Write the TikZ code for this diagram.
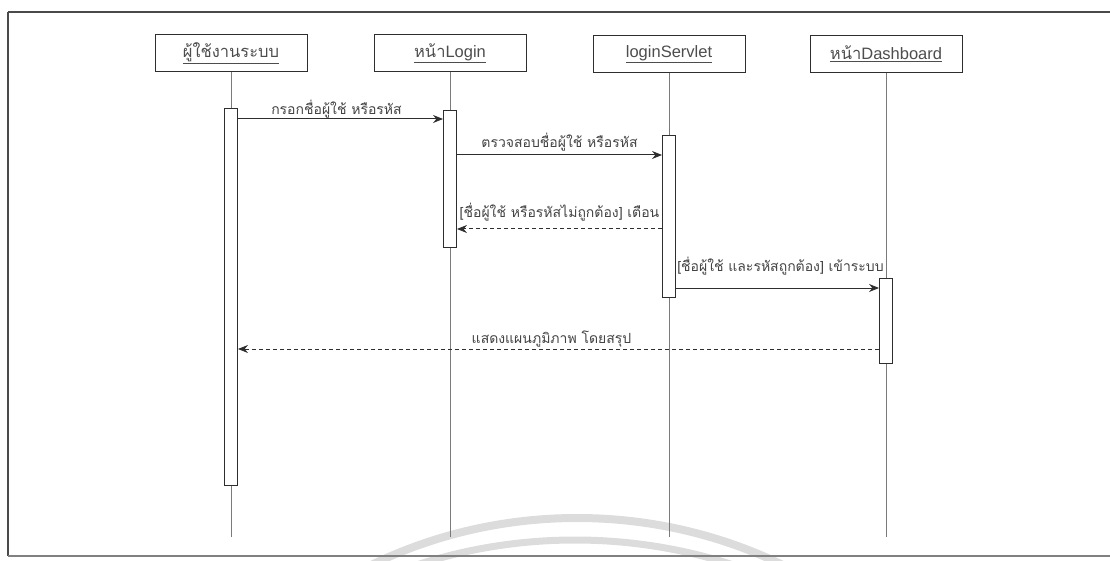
\documentclass[tikz,border=0pt]{standalone}
\usepackage{fontspec}
\setmainfont{Liberation Sans}
\newfontfamily\thai[Script=Thai]{Loma}
\usetikzlibrary{arrows.meta}
\definecolor{ink}{HTML}{2E2E2E}
\definecolor{life}{HTML}{7A7A7A}
\definecolor{stamp}{HTML}{DCDCDC}
\definecolor{frame}{HTML}{4A4A4A}
\begin{document}
\begin{tikzpicture}[x=1pt,y=-1pt,
  head/.style={draw=ink, line width=1pt, minimum width=152pt, minimum height=37pt,
    inner sep=0pt, font=\fontsize{16.5}{19}\selectfont, text=ink!85},
  lifeline/.style={draw=life, line width=1pt},
  act/.style={draw=ink, fill=white, line width=0.9pt, minimum width=13pt,
    inner sep=0pt, anchor=north},
  call/.style={draw=ink, line width=1pt, -{Stealth[length=10pt,width=8pt]}},
  reply/.style={call, dash pattern=on 4pt off 3pt},
  lbl/.style={font=\thai\fontsize{14}{16}\selectfont, text=ink!90, inner sep=0pt, anchor=base}
]
\useasboundingbox (0,0) rectangle (1110,561);

% faint rings of the stamp near the lower edge
\begin{scope}
  \clip (8,12) rectangle (1110,561);
  \draw[stamp, line width=8pt] (577,991) circle[radius=473pt];
  \draw[stamp, line width=7pt] (575,1051) circle[radius=511pt];
\end{scope}

% page frame
\draw[frame, line width=1.4pt] (8,12) -- (1110,12);
\draw[frame, line width=1.2pt] (8,12) -- (8,556);
\draw[frame!70, line width=1.2pt] (8,556) -- (1110,556);

% participants
\node[head] (user) at (231,53) {\underline{\thai ผู้ใช้งานระบบ}};
\node[head] (login) at (450,53) {\underline{{\thai หน้า}Login}};
\node[head] (servlet) at (669,54) {\underline{loginServlet}};
\node[head] (dash) at (886,54) {\underline{{\thai หน้า}Dashboard}};

% lifelines
\coordinate (userEnd) at (231,537);
\coordinate (loginEnd) at (450,537);
\coordinate (servletEnd) at (669,537);
\coordinate (dashEnd) at (886,537);
\draw[lifeline] (user.south) -- (userEnd);
\draw[lifeline] (login.south) -- (loginEnd);
\draw[lifeline] (servlet.south) -- (servletEnd);
\draw[lifeline] (dash.south) -- (dashEnd);

% activation bars
\node[act, minimum height=377pt] (a1) at (231,108) {};
\node[act, minimum height=137pt] (a2) at (450,110) {};
\node[act, minimum height=162pt] (a3) at (669,135) {};
\node[act, minimum height=85pt]  (a4) at (886,278) {};

% messages
\draw[call] (a1.east |- 0,119) -- node[lbl, yshift=4pt, xshift=-4pt] {กรอกชื่อผู้ใช้ หรือรหัส} (a2.west |- 0,119);
\draw[call] (a2.east |- 0,155) -- node[lbl, yshift=7pt] {ตรวจสอบชื่อผู้ใช้ หรือรหัส} (a3.west |- 0,155);
\draw[reply] (a3.west |- 0,229) -- node[lbl, yshift=11pt] {[ชื่อผู้ใช้ หรือรหัสไม่ถูกต้อง] เตือน} (a2.east |- 0,229);
\draw[call] (a3.east |- 0,288) -- node[lbl, yshift=16pt, xshift=3pt] {[ชื่อผู้ใช้ และรหัสถูกต้อง] เข้าระบบ} (a4.west |- 0,288);
\draw[reply] (a4.west |- 0,349) -- node[lbl, yshift=6pt, xshift=-7pt] {แสดงแผนภูมิภาพ โดยสรุป} (a1.east |- 0,349);
\end{tikzpicture}
\end{document}
